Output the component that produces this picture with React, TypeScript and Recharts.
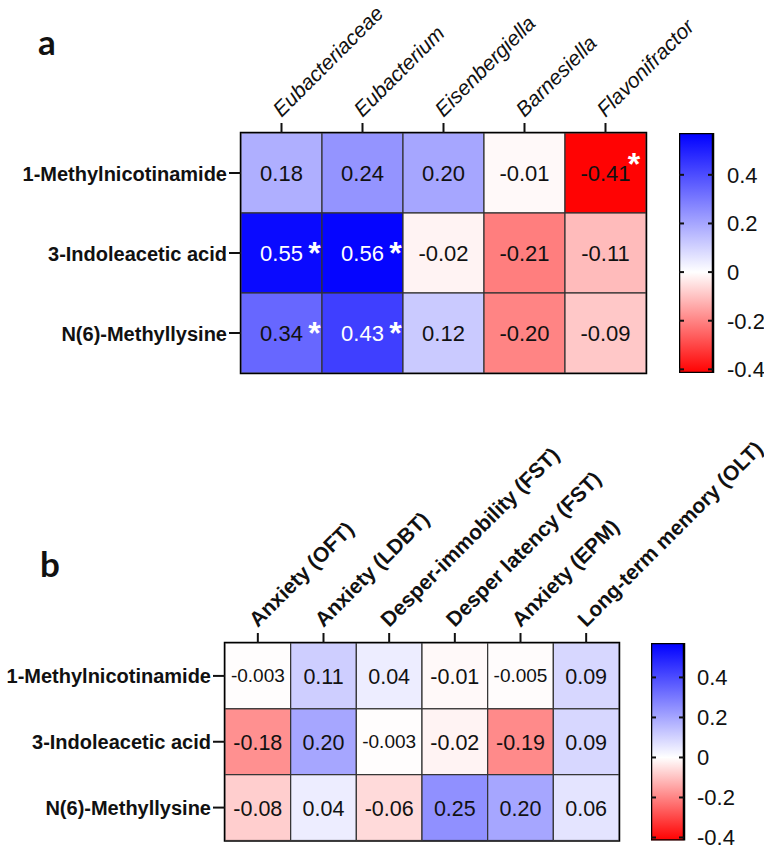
import React from 'react';
import { ScatterChart, Scatter, XAxis, YAxis, ReferenceArea, BarChart, Bar } from 'recharts';

// ---------- data ----------
const metabolites = ['1-Methylnicotinamide', '3-Indoleacetic acid', 'N(6)-Methyllysine'];
const taxa = ['Eubacteriaceae', 'Eubacterium', 'Eisenbergiella', 'Barnesiella', 'Flavonifractor'];
const behaviours = [
  'Anxiety (OFT)',
  'Anxiety (LDBT)',
  'Desper-immobility (FST)',
  'Desper latency (FST)',
  'Anxiety (EPM)',
  'Long-term memory (OLT)',
];

const taxaMethylnicotinamide = [0.18, 0.24, 0.2, -0.01, -0.41];
const taxaIndoleacetic = [0.55, 0.56, -0.02, -0.21, -0.11];
const taxaMethyllysine = [0.34, 0.43, 0.12, -0.2, -0.09];
const sigTaxaMethylnicotinamide = [false, false, false, false, true];
const sigTaxaIndoleacetic = [true, true, false, false, false];
const sigTaxaMethyllysine = [true, true, false, false, false];

const behavMethylnicotinamide = [-0.003, 0.11, 0.04, -0.01, -0.005, 0.09];
const behavIndoleacetic = [-0.18, 0.2, -0.003, -0.02, -0.19, 0.09];
const behavMethyllysine = [-0.08, 0.04, -0.06, 0.25, 0.2, 0.06];

const colorbarTicks = [-0.4, -0.2, 0, 0.2, 0.4];
const COLOR_MIN = -0.415;
const COLOR_MAX = 0.572;

// ---------- helpers ----------
const FONT = '"Liberation Sans", Arial, sans-serif';

type Pt = { x: number; y: number; v: number; sig: boolean };

function buildPoints(rows: number[][], sigs?: boolean[][]): Pt[] {
  const out: Pt[] = [];
  rows.forEach((row, r) =>
    row.forEach((v, c) => out.push({ x: c, y: r, v, sig: sigs ? sigs[r][c] : false }))
  );
  return out;
}

function heatColor(v: number): string {
  if (v >= 0) {
    const t = Math.min(1, v / COLOR_MAX);
    const c = Math.round(255 * (1 - t));
    return `rgb(${c},${c},255)`;
  }
  const t = Math.min(1, v / COLOR_MIN);
  const c = Math.round(255 * (1 - t));
  return `rgb(255,${c},${c})`;
}

function fmt(v: number): string {
  if (v !== 0 && Math.abs(v) < 0.01) return v.toFixed(3);
  return v.toFixed(2);
}

// ---------- heatmap ----------
type HeatProps = {
  top: number;
  chartHeight: number;
  xAxisHeight: number;
  yAxisWidth: number;
  plotWidth: number;
  plotHeight: number;
  cols: string[];
  rows: string[];
  points: Pt[];
  colItalic: boolean;
  colBold: boolean;
  colFontSize: number;
  valueFontSize: number;
  smallFontSize: number;
};

function Heatmap(props: HeatProps) {
  const {
    top, chartHeight, xAxisHeight, yAxisWidth, plotWidth, plotHeight, cols, rows, points,
    colItalic, colBold, colFontSize, valueFontSize, smallFontSize,
  } = props;
  const W = 764;
  const cw = plotWidth / cols.length;
  const ch = plotHeight / rows.length;
  const marginRight = W - yAxisWidth - plotWidth;
  const marginBottom = chartHeight - xAxisHeight - plotHeight;

  const ColTick = (p: any) => (
    <text
      x={p.x}
      y={p.y}
      transform={`rotate(-45 ${p.x} ${p.y})`}
      textAnchor="start"
      fontFamily={FONT}
      fontSize={colFontSize}
      fontStyle={colItalic ? 'italic' : 'normal'}
      fontWeight={colBold ? 'bold' : 'normal'}
      fill="#111"
    >
      {cols[p.payload.value]}
    </text>
  );

  const RowTick = (p: any) => (
    <text x={p.x} y={p.y + 7.5} textAnchor="end" fontFamily={FONT} fontSize={20} fontWeight="bold" fill="#111">
      {rows[p.payload.value]}
    </text>
  );

  const CellShape = (p: any) => {
    const { cx, cy, payload } = p;
    const v: number = payload.v;
    const txt = fmt(v);
    const small = txt.length > 5;
    const white = v > 0.4;
    const fs = small ? smallFontSize : valueFontSize;
    return (
      <g>
        <rect x={cx - cw / 2} y={cy - ch / 2} width={cw} height={ch} fill={heatColor(v)} stroke="#333" strokeWidth={1.2} />
        <text
          x={cx}
          y={cy + (small ? 6 : 8)}
          textAnchor="middle"
          fontFamily={FONT}
          fontSize={fs}
          fill={white ? '#ffffff' : '#111'}
        >
          {txt}
        </text>
        {payload.sig ? (
          <text
            x={v < 0 ? cx + 28.5 : cx + 33}
            y={v < 0 ? cy + 2 : cy + 11}
            textAnchor="middle"
            fontFamily={FONT}
            fontSize={32}
            fontWeight="bold"
            fill="#ffffff"
          >
            *
          </text>
        ) : null}
      </g>
    );
  };

  const colTicks = cols.map((_, i) => i);
  const rowTicks = rows.map((_, i) => i);

  return (
    <div style={{ position: 'absolute', left: 0, top }}>
      <ScatterChart
        width={W}
        height={chartHeight}
        margin={{ top: 0, right: marginRight, bottom: marginBottom, left: 0 }}
        style={{ overflow: 'visible' }}
      >
        <XAxis
          type="number"
          dataKey="x"
          orientation="top"
          domain={[-0.5, cols.length - 0.5]}
          ticks={colTicks}
          interval={0}
          allowDataOverflow
          height={xAxisHeight}
          tickSize={10}
          tickMargin={5}
          axisLine={false}
          tickLine={{ stroke: '#111', strokeWidth: 2 }}
          tick={<ColTick />}
        />
        <YAxis
          type="number"
          dataKey="y"
          reversed
          domain={[-0.5, rows.length - 0.5]}
          ticks={rowTicks}
          interval={0}
          allowDataOverflow
          width={yAxisWidth}
          tickSize={12}
          tickMargin={2}
          axisLine={false}
          tickLine={{ stroke: '#111', strokeWidth: 2 }}
          tick={<RowTick />}
        />
        <Scatter data={points} shape={<CellShape />} isAnimationActive={false} />
        <ReferenceArea
          x1={-0.5}
          x2={cols.length - 0.5}
          y1={-0.5}
          y2={rows.length - 0.5}
          fill="none"
          fillOpacity={0}
          stroke="#000"
          strokeWidth={2.5}
          ifOverflow="visible"
        />
      </ScatterChart>
    </div>
  );
}

// ---------- colour bar ----------
type CbProps = { left: number; top: number; height: number; barWidth: number; gap: number; id: string };

function ColorBar({ left, top, height, barWidth, gap, id }: CbProps) {
  const data = [{ name: 'scale', range: [COLOR_MIN, COLOR_MAX] }];
  const zeroOff = COLOR_MAX / (COLOR_MAX - COLOR_MIN);
  const labelW = 60;
  const pad = 20;
  const CbTick = (p: any) => (
    <g>
      <line x1={p.x - barWidth} x2={p.x - barWidth + 5} y1={p.y} y2={p.y} stroke="#111" strokeWidth={2} />
      <line x1={p.x - 5} x2={p.x} y1={p.y} y2={p.y} stroke="#111" strokeWidth={2} />
      <text x={p.x + gap} y={p.y + 8} fontFamily={FONT} fontSize={22} fill="#111">
        {String(p.payload.value)}
      </text>
    </g>
  );
  return (
    <div style={{ position: 'absolute', left, top: top - pad }}>
      <BarChart
        width={barWidth + labelW}
        height={height + 2 * pad}
        data={data}
        margin={{ top: pad, bottom: pad, left: 0, right: 0 }}
        barCategoryGap={0}
        style={{ overflow: 'visible' }}
      >
        <defs>
          <linearGradient id={id} x1="0" y1="0" x2="0" y2="1">
            <stop offset="0" stopColor="#0000ff" />
            <stop offset={zeroOff} stopColor="#ffffff" />
            <stop offset="1" stopColor="#ff0000" />
          </linearGradient>
        </defs>
        <XAxis dataKey="name" type="category" hide />
        <Bar dataKey="range" fill={`url(#${id})`} stroke="#000" strokeWidth={2.5} isAnimationActive={false} />
        <YAxis
          orientation="right"
          type="number"
          domain={[COLOR_MIN, COLOR_MAX]}
          ticks={colorbarTicks}
          interval={0}
          allowDataOverflow
          width={labelW}
          axisLine={false}
          tickLine={false}
          tickSize={0}
          tickMargin={0}
          tick={<CbTick />}
        />
      </BarChart>
    </div>
  );
}

// ---------- app ----------
export default function App() {
  const pointsA = buildPoints(
    [taxaMethylnicotinamide, taxaIndoleacetic, taxaMethyllysine],
    [sigTaxaMethylnicotinamide, sigTaxaIndoleacetic, sigTaxaMethyllysine]
  );
  const pointsB = buildPoints([behavMethylnicotinamide, behavIndoleacetic, behavMethyllysine]);

  return (
    <div
      style={{
        position: 'absolute',
        left: 0,
        top: 0,
        width: 764,
        height: 846,
        background: '#ffffff',
        fontFamily: FONT,
        overflow: 'hidden',
      }}
    >
      <Heatmap
        top={0}
        chartHeight={378}
        xAxisHeight={133}
        yAxisWidth={241}
        plotWidth={405}
        plotHeight={240}
        cols={taxa}
        rows={metabolites}
        points={pointsA}
        colItalic={true}
        colBold={false}
        colFontSize={21}
        valueFontSize={22}
        smallFontSize={19}
      />
      <ColorBar left={679} top={133} height={240} barWidth={34} gap={14} id="gradA" />

      <Heatmap
        top={400}
        chartHeight={446}
        xAxisHeight={243}
        yAxisWidth={225}
        plotWidth={394}
        plotHeight={197.5}
        cols={behaviours}
        rows={metabolites}
        points={pointsB}
        colItalic={false}
        colBold={true}
        colFontSize={21}
        valueFontSize={21.5}
        smallFontSize={19}
      />
      <ColorBar left={651} top={643} height={197.5} barWidth={33} gap={13} id="gradB" />

      <svg width={764} height={846} style={{ position: 'absolute', left: 0, top: 0, pointerEvents: 'none' }}>
        <text x={38} y={55} fontFamily="Lato, 'Open Sans', sans-serif" fontWeight="bold" fontSize={35} fill="#111">
          a
        </text>
        <text x={40} y={577} fontFamily="Lato, 'Open Sans', sans-serif" fontWeight="bold" fontSize={35} fill="#111">
          b
        </text>
      </svg>
    </div>
  );
}
